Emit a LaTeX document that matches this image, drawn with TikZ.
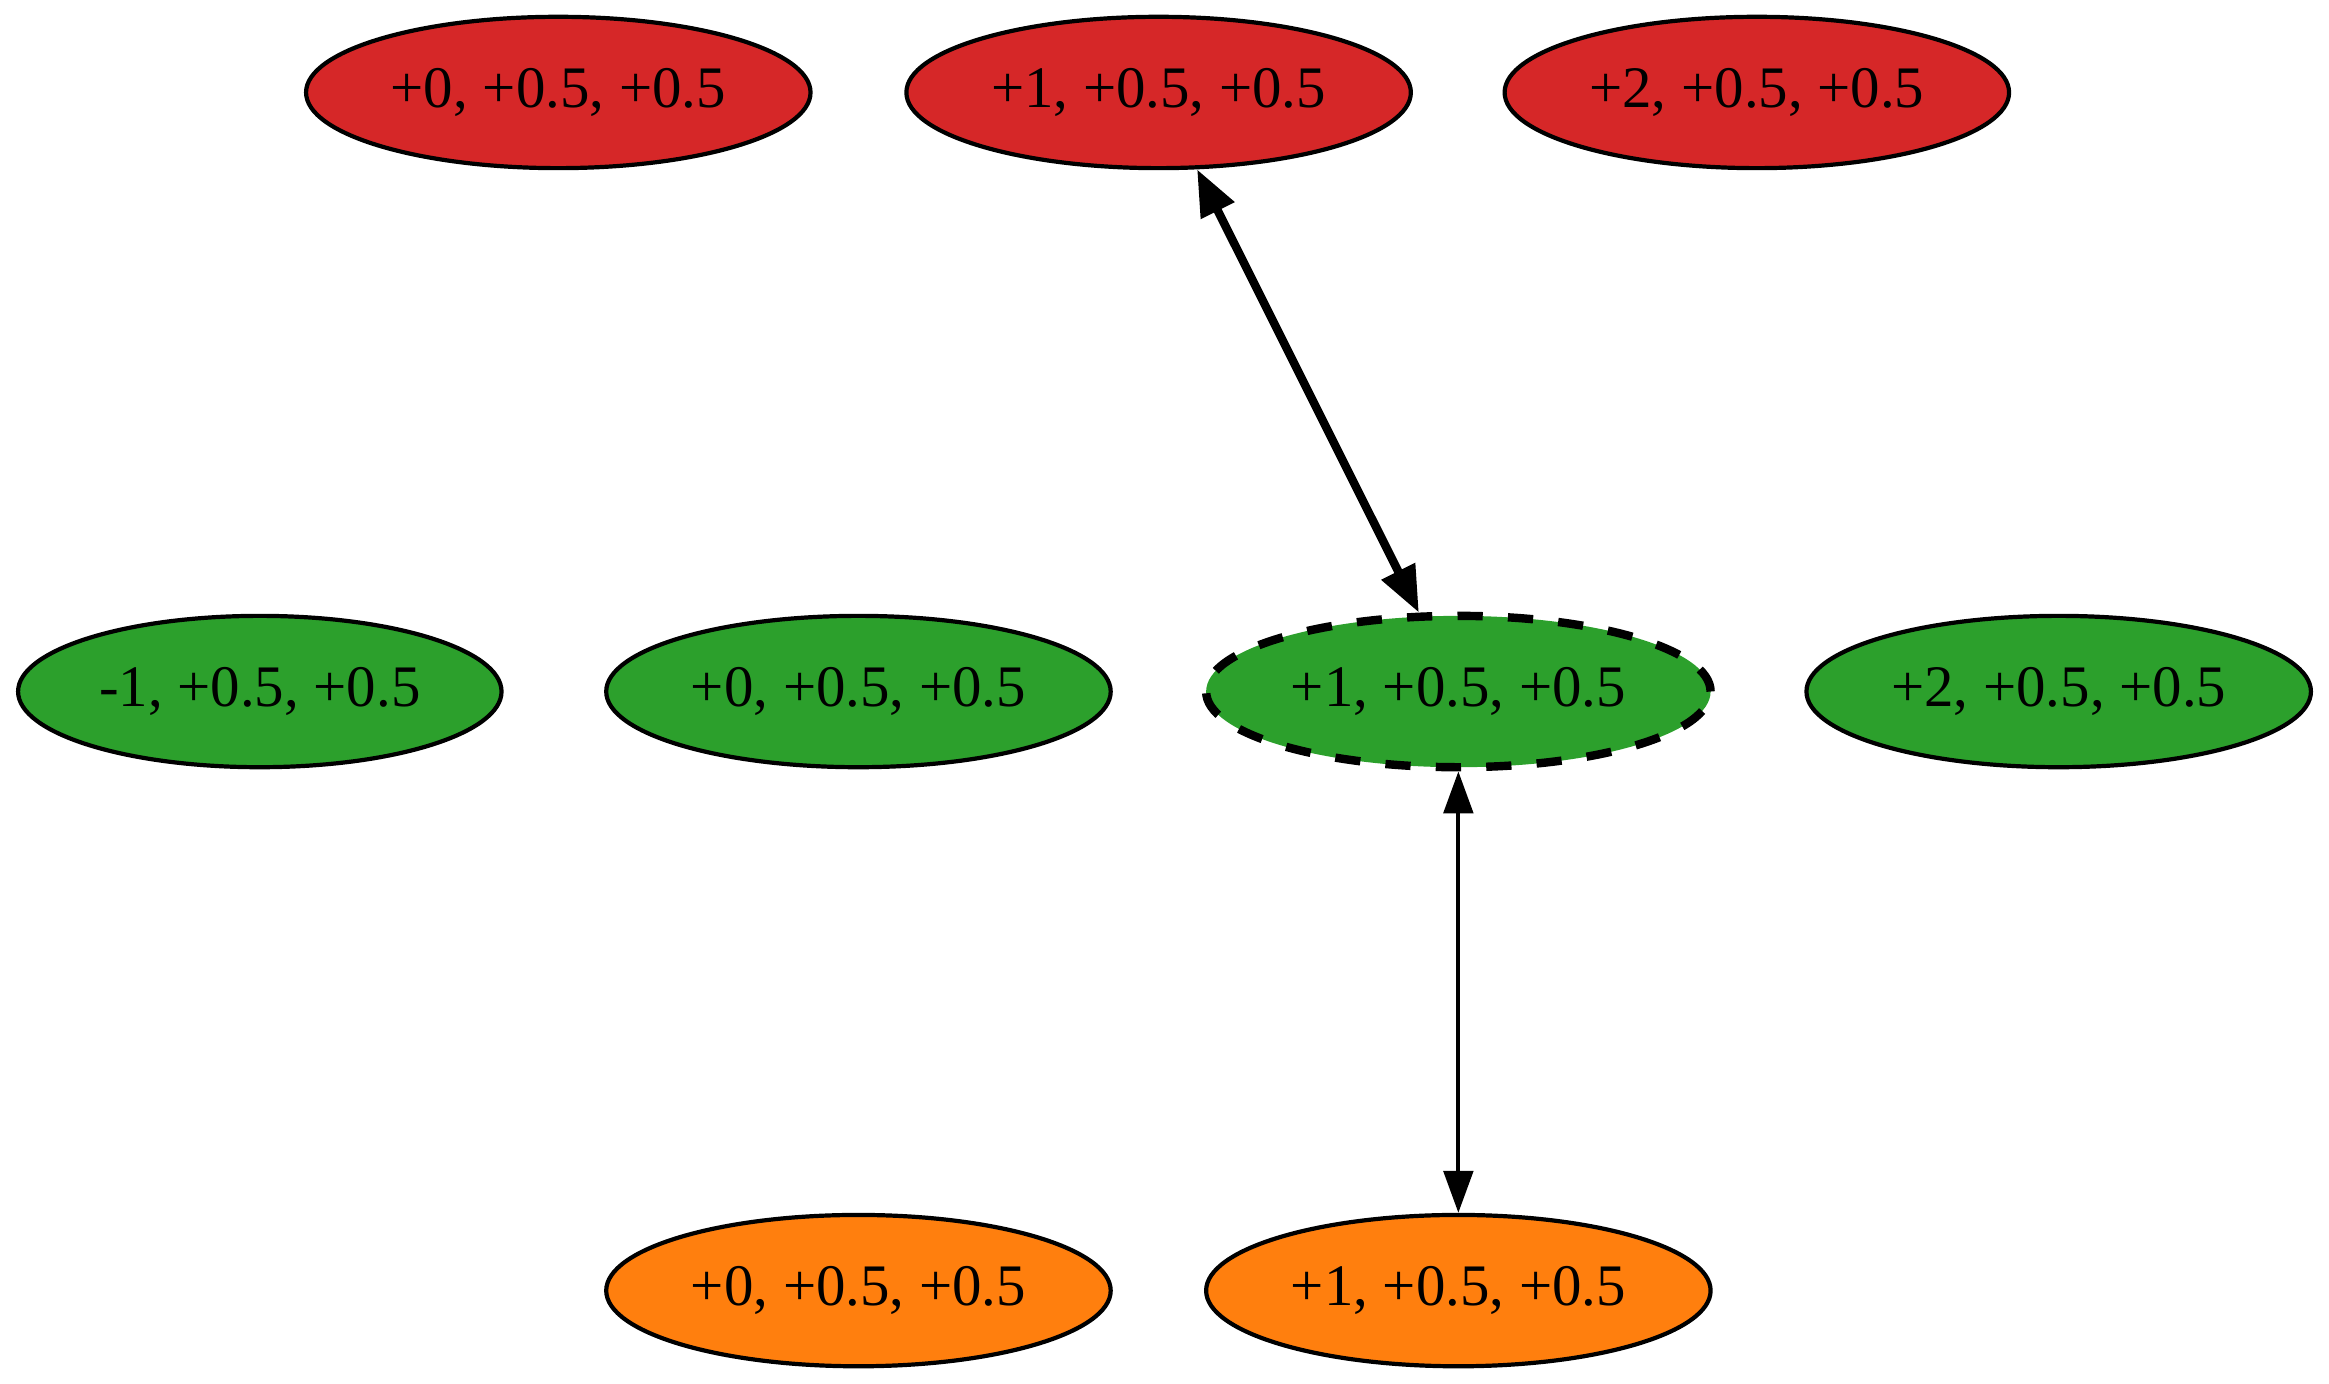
\documentclass[tikz,border=0pt]{standalone}
\usepackage{fontspec}
\setmainfont{Liberation Serif}
\usetikzlibrary{arrows.meta,shapes.geometric}
\definecolor{gvred}{HTML}{D62728}
\definecolor{gvgreen}{HTML}{2CA02C}
\definecolor{gvorange}{HTML}{FF7F0E}
\begin{document}
\begin{tikzpicture}[x=1pt,y=1pt,
  gnode/.style={ellipse, draw=black, line width=1pt, minimum width=120pt,
    minimum height=36pt, inner sep=0pt, font=\fontsize{14}{16}\selectfont},
  rednode/.style={gnode, fill=gvred},
  greennode/.style={gnode, fill=gvgreen},
  orangenode/.style={gnode, fill=gvorange},
  focusnode/.style={greennode, line width=2pt, dash pattern=on 6pt off 6pt},
  thickedge/.style={line width=2pt, {Triangle[length=11pt,width=8.5pt]}-{Triangle[length=11pt,width=8.5pt]}},
  thinedge/.style={line width=1pt, {Triangle[length=10pt,width=7pt]}-{Triangle[length=10pt,width=7pt]}}
]
\useasboundingbox (0,0) rectangle (554,329);
% top row (red)
\node[rednode] (r0) at (132.8,307) {+0, +0.5, +0.5};
\node[rednode] (r1) at (275.6,307) {+1, +0.5, +0.5};
\node[rednode] (r2) at (417.9,307) {+2, +0.5, +0.5};
% middle row (green)
\node[greennode, minimum width=115pt] (gm1) at (61.8,164.5) {-1, +0.5, +0.5};
\node[greennode] (g0) at (204.2,164.5) {+0, +0.5, +0.5};
\node[focusnode] (g1) at (346.9,164.5) {+1, +0.5, +0.5};
\node[greennode] (g2) at (489.7,164.5) {+2, +0.5, +0.5};
% bottom row (orange)
\node[orangenode] (o0) at (204.2,22) {+0, +0.5, +0.5};
\node[orangenode] (o1) at (346.9,22) {+1, +0.5, +0.5};
% edges
\draw[thickedge] (r1) -- (g1);
\draw[thinedge] (g1) -- (o1);
\end{tikzpicture}
\end{document}
